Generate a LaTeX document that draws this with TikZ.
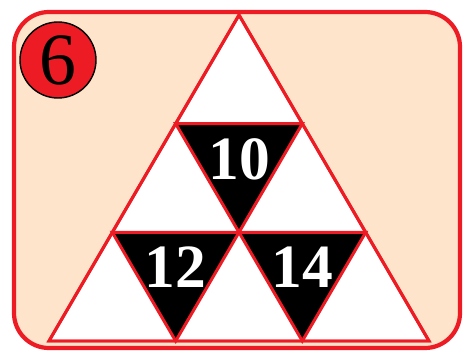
\documentclass[tikz,border=0pt]{standalone}
\usepackage{fontspec}
\setmainfont{Liberation Serif}
\definecolor{tred}{HTML}{ED1C24}
\definecolor{peach}{HTML}{FDE4CA}
\begin{document}
\begin{tikzpicture}[
  x=0.02cm, y=-0.02cm,
  frame/.style={draw=tred, line width=2.4pt, fill=peach, rounded corners=0.7cm},
  edge/.style={draw=tred, line width=1.7pt, line join=miter},
  up/.style={edge, fill=white},
  down/.style={edge, fill=black},
  num/.style={text=white, font=\fontsize{35}{35}\selectfont\bfseries},
  badge/.style={circle, draw=black, line width=0.8pt, fill=tred,
                minimum size=1.52cm, inner sep=0pt,
                font=\fontsize{42}{42}\selectfont}
]
\useasboundingbox (0,0) rectangle (463,351);
% card
\draw[frame] (14,12) rectangle (460,348);
% lattice points (rows from the top)
\coordinate (a)  at (239,15);
\coordinate (b1) at (175.7,123.7);
\coordinate (b2) at (302.3,123.7);
\coordinate (c1) at (112.3,232.3);
\coordinate (c2) at (239,232.3);
\coordinate (c3) at (365.7,232.3);
\coordinate (d1) at (49,341);
\coordinate (d2) at (175.7,341);
\coordinate (d3) at (302.3,341);
\coordinate (d4) at (429,341);
% big triangle
\path[up] (a) -- (d1) -- (d4) -- cycle;
% black cells
\path[down] (b1) -- (b2) -- (c2) -- cycle;
\path[down] (c1) -- (c2) -- (d2) -- cycle;
\path[down] (c2) -- (c3) -- (d3) -- cycle;
% outline again on top
\path[edge] (a) -- (d1) -- (d4) -- cycle;
% numbers
\node[num] (n10) at (239,159) {10};
\node[num] (n12) at (175.7,267) {12};
\node[num] (n14) at (302.3,267) {14};
% badge
\node[badge] (six) at (58,60) {6};
\end{tikzpicture}
\end{document}
